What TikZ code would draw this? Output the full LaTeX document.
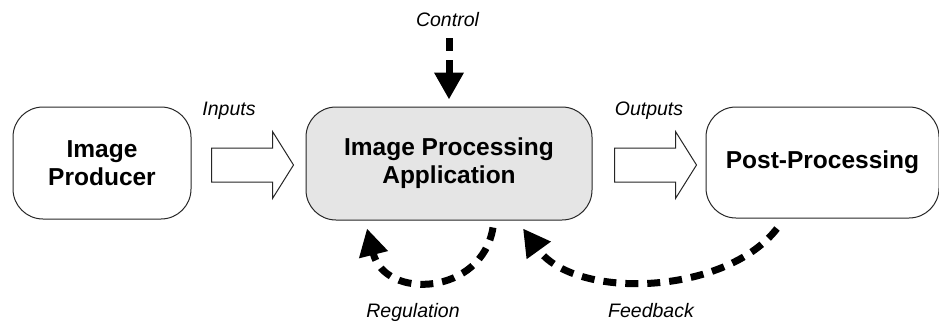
\documentclass[tikz,border=0pt]{standalone}
\usepackage{fontspec}
\setmainfont{Liberation Sans}
\usetikzlibrary{arrows.meta,calc}

% hollow block arrow from a tail point to a tip point (same height)
\newcommand\flowarrow[2]{%
  \draw[flow] ($(#1)+(0,-17)$) -- ($(#2)+(-21,-17)$) -- ($(#2)+(-21,-33.5)$)
    -- (#2) -- ($(#2)+(-21,33.5)$) -- ($(#2)+(-21,17)$) -- ($(#1)+(0,17)$) -- cycle;}

\begin{document}
\begin{tikzpicture}[x=1pt,y=-1pt,
  box/.style={draw=black!85, line width=1pt, rounded corners=30pt, inner sep=0pt,
    align=center, font=\bfseries\fontsize{24.5}{28}\selectfont},
  lbl/.style={inner sep=0pt, anchor=base, font=\itshape\fontsize{19.5}{23}\selectfont},
  flow/.style={draw=black!85, line width=1pt, fill=white, line join=miter},
  signal/.style={line width=7pt, dash pattern=on 13pt off 9pt,
    -{Triangle[length=27pt,width=28pt]}}]
\useasboundingbox (0,0) rectangle (939,322);
\begin{scope}
\clip (0,0) rectangle (939,322);

% processing stages
\node[box, minimum width=178pt, minimum height=112pt] (prod) at (102,163) {Image\\Producer};
\node[box, fill=gray!20, minimum width=286pt, minimum height=113pt] (app) at (449,163.5)
  {Image Processing\\Application};
\node[box, minimum width=233pt, minimum height=111pt] (post) at (822.5,162.5) {Post-Processing};

% data flow
\coordinate (inTail) at ($(prod.east)+(20,2)$);
\coordinate (inTip)  at ($(app.west)+(-12,1.5)$);
\coordinate (outTail) at ($(app.east)+(22,1.5)$);
\coordinate (outTip)  at ($(post.west)+(-9,2.5)$);
\flowarrow{inTail}{inTip}
\flowarrow{outTail}{outTip}

% control signals
\coordinate (ctlTail) at (449,38);
\draw[signal] (ctlTail) -- ($(app.north)+(0,-7)$);
\draw[signal] ($(app.south)+(44,7)$) .. controls ($(app.south)+(33,75)$) and ($(app.south)+(-64,80)$)
  .. ($(app.south)+(-82,8)$);
\draw[signal] ($(post.south)+(-45.5,10)$) .. controls ($(post.south)+(-97.5,77)$) and ($(app.south)+(126,80)$)
  .. ($(app.south)+(74,8)$);

% labels
\node[lbl] (lctl) at (447.5,26) {Control};
\node[lbl] (lin)  at (229,115) {Inputs};
\node[lbl] (lout) at (649,115) {Outputs};
\node[lbl] (lreg) at (413,317) {Regulation};
\node[lbl] (lfb)  at (651,317) {Feedback};
\end{scope}
\end{tikzpicture}
\end{document}
